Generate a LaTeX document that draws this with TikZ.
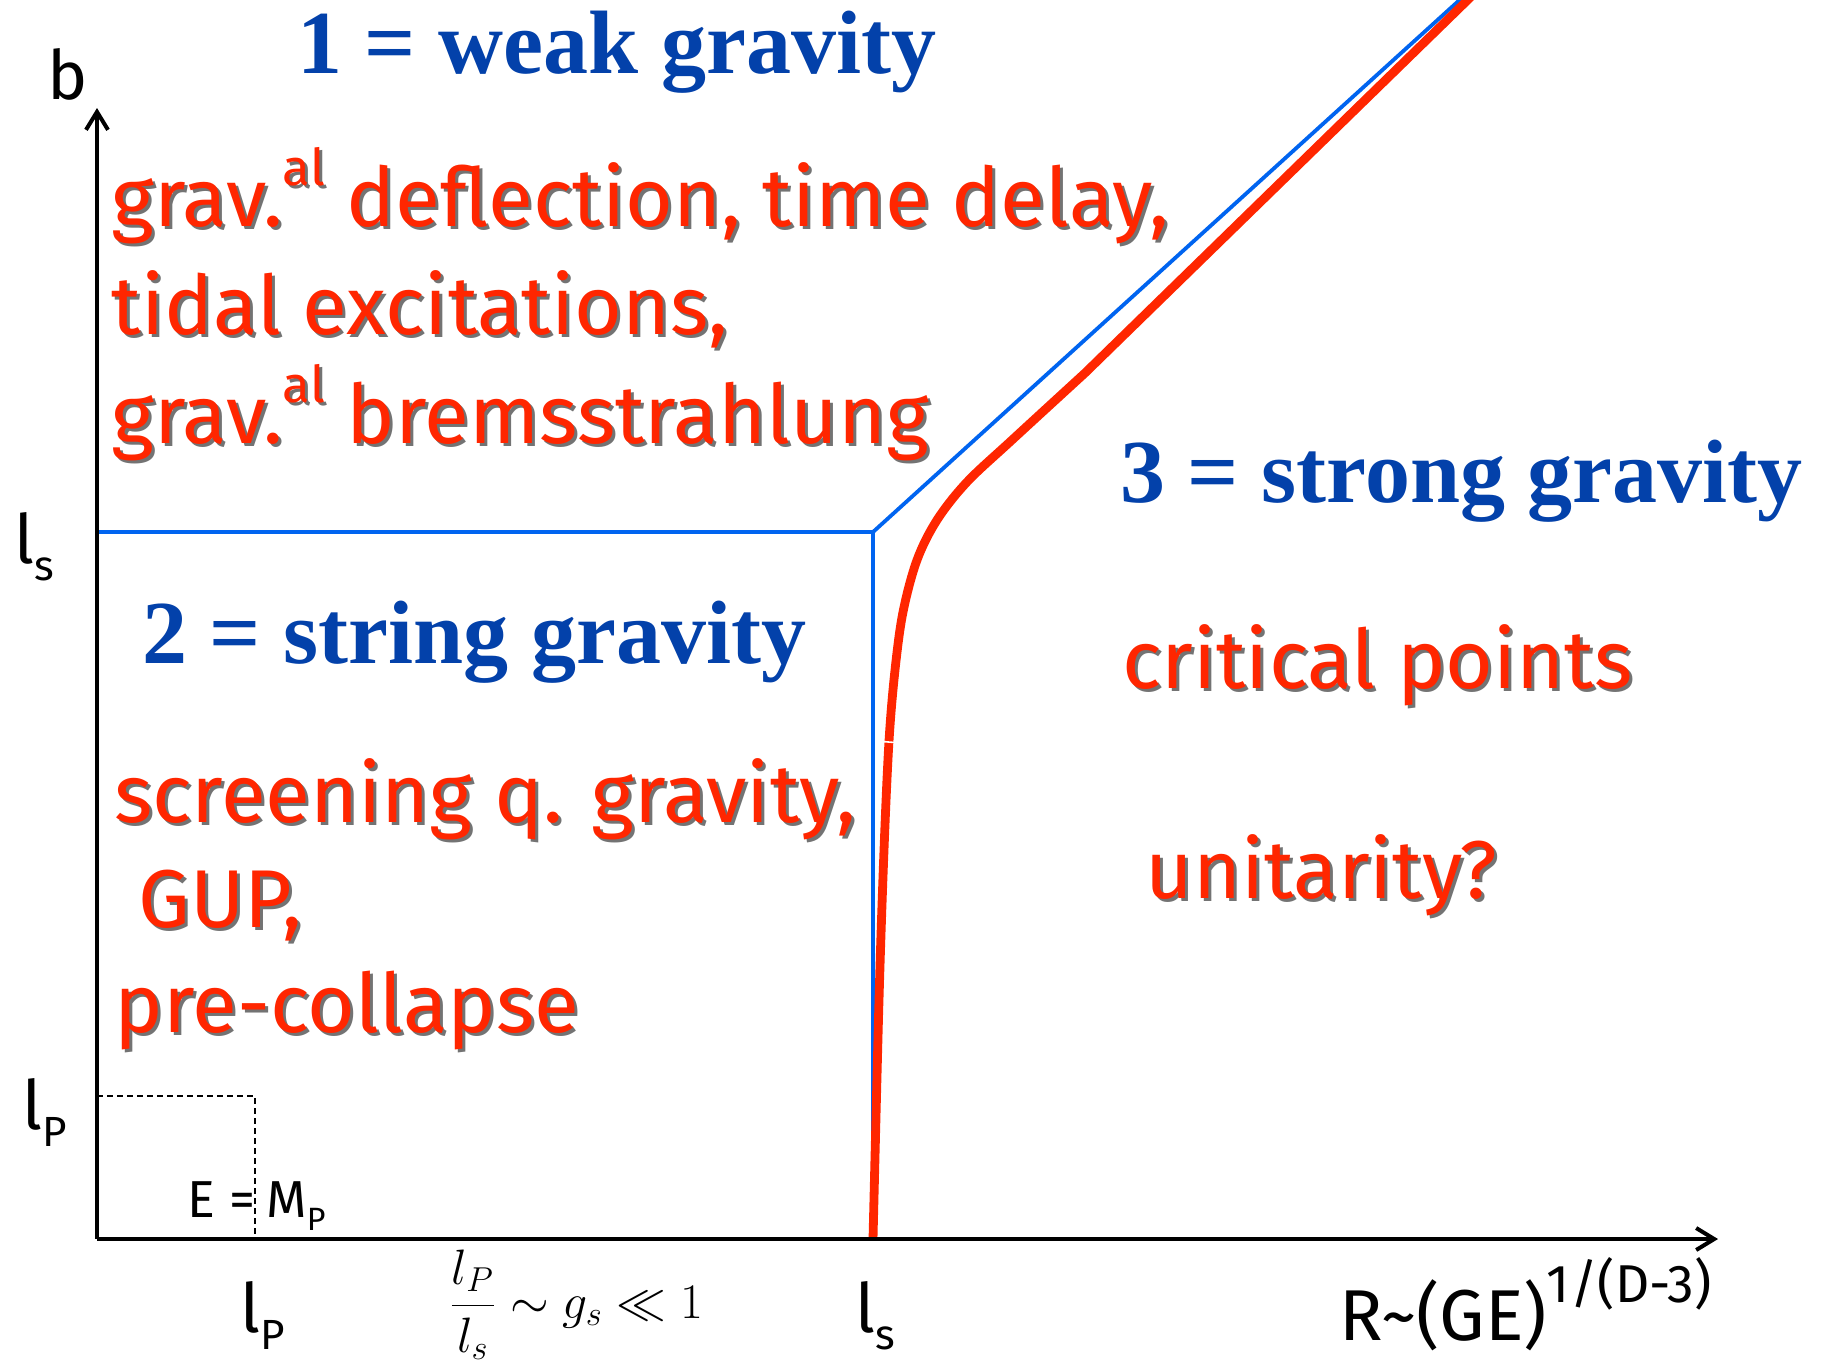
\documentclass[tikz,border=0pt]{standalone}
\usepackage{fontspec}
\usepackage{graphicx}
\setmainfont{Fira Sans}
\newfontfamily\serifbold{Liberation Serif}
\usetikzlibrary{arrows.meta,calc}
\definecolor{titleblue}{RGB}{3,65,170}
\definecolor{lineblue}{RGB}{0,100,240}
\definecolor{redtext}{RGB}{255,38,0}
\newcommand\lowsub[1]{\raisebox{-0.26em}{\scalebox{0.62}{#1}}}
\newcommand\highsup[1]{\raisebox{0.5em}{\scalebox{0.62}{#1}}}
\newcommand\bigsup[1]{\raisebox{0.52em}{\scalebox{0.74}{#1}}}
\tikzset{
  axisline/.style={line width=2.3pt, black},
  blueline/.style={line width=1.9pt, lineblue},
  redcurve/.style={line width=4.4pt, redtext},
  dashline/.style={line width=0.7pt, dash pattern=on 3pt off 2pt},
  titletxt/.style={anchor=base west, inner sep=0pt, text=titleblue, font=\serifbold\bfseries\fontsize{45}{50}\selectfont},
  redtxt/.style={anchor=base west, inner sep=0pt, text=redtext, font=\fontsize{41}{46}\selectfont},
  shadowtxt/.style={anchor=base west, inner sep=0pt, text=black, opacity=0.55, font=\fontsize{41}{46}\selectfont},
  labtxt/.style={anchor=base west, inner sep=0pt, text=black, font=\fontsize{34}{40}\selectfont},
}
\newcommand\shtext[4]{%
  \node[shadowtxt] at (#2+3,#3+3) {#4};
  \node[redtxt] (#1) at (#2,#3) {#4};}
\begin{document}
\begin{tikzpicture}[x=0.5pt,y=-0.5pt]
\fill[white] (0,0) rectangle (1829,1366);
\useasboundingbox (0,0) rectangle (1829,1366);
% key points
\coordinate (O) at (97,1239);
\coordinate (ytip) at (97,108);
\coordinate (xtip) at (1718,1239);
\coordinate (lsl) at (97,532);
\coordinate (C) at (873,532);
\coordinate (Bot) at (873,1239);
\coordinate (btop) at (1475,-14);
\coordinate (rtop) at (1482,-14);
\coordinate (dh) at (255,1096);
\coordinate (dl) at (97,1096);
\coordinate (db) at (255,1239);
% dashed Planck box
\draw[dashline] (dl) -- (dh) -- (db);
% blue boundaries
\draw[blueline] (lsl) -- (C) -- (Bot);
\draw[blueline] (C) -- (btop);
% red curve
\draw[redcurve] plot[smooth, tension=0.55] coordinates {(873,1239) (879,1000) (884,850) (889,741) (895,670) (903,612) (917,560) (937,520) (967,482) (1012,440) (1085,373)} -- (rtop);
\draw[white, line width=0.8pt] (876,741) -- (901,743);
% axes
\draw[axisline, -{Straight Barb[length=9pt,width=11pt,line width=2pt]}] (O) -- (ytip);
\draw[axisline, -{Straight Barb[length=9pt,width=11pt,line width=2pt]}] (O) -- (xtip);
% titles
\node[titletxt] (t1) at (297,73) {1 = weak gravity};
\node[titletxt] (t2) at (142,663) {2 = string gravity};
\node[titletxt] (t3) at (1120,502) {3 = strong gravity};
% red texts
\shtext{r1}{111}{226}{grav.\highsup{al} deflection, time delay,}
\shtext{r2}{111}{334}{tidal excitations,}
\shtext{r3}{111}{443}{grav.\highsup{al} bremsstrahlung}
\shtext{r4}{114}{822}{screening q. gravity,}
\shtext{r5}{138}{927}{GUP,}
\shtext{r6}{114}{1032}{pre-collapse}
\shtext{r7}{1122}{688}{critical points}
\shtext{r8}{1145}{898}{unitarity?}
% axis labels
\node[labtxt] (lb) at (47,99) {b};
\node[labtxt] (lsleft) at (14,563) {l\lowsub{s}};
\node[labtxt] (lpleft) at (22,1129) {l\lowsub{P}};
\node[labtxt] (lpbot) at (240,1332) {l\lowsub{P}};
\node[labtxt] (lsbot) at (855,1332) {l\lowsub{s}};
\node[labtxt, font=\fontsize{36}{42}\selectfont] (rlab) at (1339,1340) {R\textasciitilde(GE)\bigsup{1/(D-3)}};
\node[labtxt, font=\fontsize{26}{30}\selectfont] (emp) at (187,1217) {E =\hspace{0.22em}M\lowsub{P}};
\node[anchor=base west, inner sep=0pt, font=\fontsize{24}{28}\selectfont] (frm) at (449,1318) {$\displaystyle\frac{l_P}{l_s}\sim g_s\ll 1$};
\end{tikzpicture}
\end{document}
